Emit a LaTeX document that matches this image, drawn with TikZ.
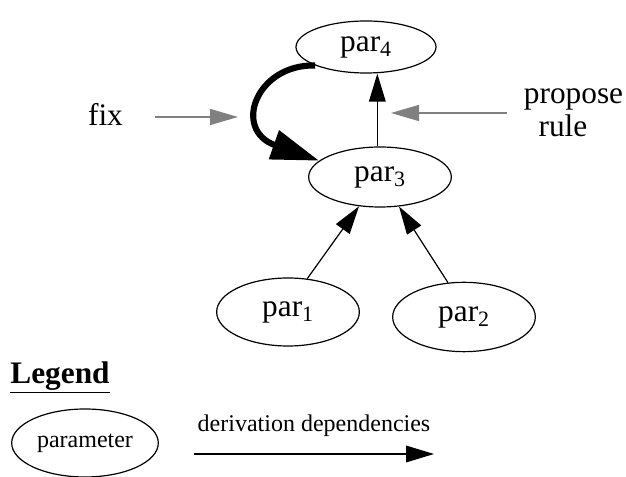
\documentclass[tikz,border=0pt]{standalone}
\usepackage{fontspec}
\setmainfont{Liberation Serif}
\usetikzlibrary{shapes.geometric,arrows.meta}
\begin{document}
\begin{tikzpicture}[x=0.75pt,y=-0.75pt,
  param/.style={ellipse,draw,line width=0.9pt,inner sep=0pt,font=\fontsize{23.5}{26}\selectfont},
  dep/.style={line width=0.9pt,-{Triangle[length=21pt,width=12.5pt]}},
  hint/.style={line width=1pt,draw=gray,-{Triangle[length=21pt,width=12pt]},gray},
  bigtext/.style={font=\fontsize{23.5}{26}\selectfont},
  smalltext/.style={font=\fontsize{18}{20}\selectfont}]
\useasboundingbox (0,0) rectangle (626,477);

% parameters
\node[param,minimum width=105pt,minimum height=39pt] (par4) at (366,47) {par\textsubscript{4}};
\node[param,minimum width=107pt,minimum height=45pt] (par3) at (380,177) {par\textsubscript{3}};
\node[param,minimum width=107pt,minimum height=51pt] (par1) at (288,312) {par\textsubscript{1}};
\node[param,minimum width=107pt,minimum height=52pt] (par2) at (464,317) {par\textsubscript{2}};

% derivation dependencies
\draw[dep] (par3.95) -- (par3.95 |- par4.south);
\draw[dep] (par1.60) -- (par3);
\draw[dep] (par2.115) -- (par3);

% fixed value, drawn as a heavy curved arrow
\draw[line width=4.6pt,-{Triangle[length=36pt,width=22pt]}]
  (par4.200) .. controls (256,64) and (232,130) .. (par3.165);

% annotations
\node[bigtext] (fix) at (105.5,114) {fix};
\coordinate (fixA) at (155,117);
\coordinate (fixB) at (238,117);
\draw[hint] (fixA) -- (fixB);

\node[bigtext] (prop) at (573.5,99) {propose};
\node[bigtext] (rule) at (563,126) {rule};
\coordinate (propA) at (507,113);
\coordinate (propB) at (391,113);
\draw[hint] (propA) -- (propB);

% legend
\node[font=\fontsize{23.5}{26}\selectfont\bfseries] (leg) at (60,377) {\underline{Legend}};
\node[param,minimum width=110pt,minimum height=51pt,font=\fontsize{18}{20}\selectfont] (lpar) at (85,443) {parameter};
\coordinate (lA) at (194,454);
\coordinate (lB) at (434,454);
\draw[dep] (lA) -- (lB);
\node[smalltext] (ldep) at (314,426) {derivation dependencies};
\end{tikzpicture}
\end{document}
